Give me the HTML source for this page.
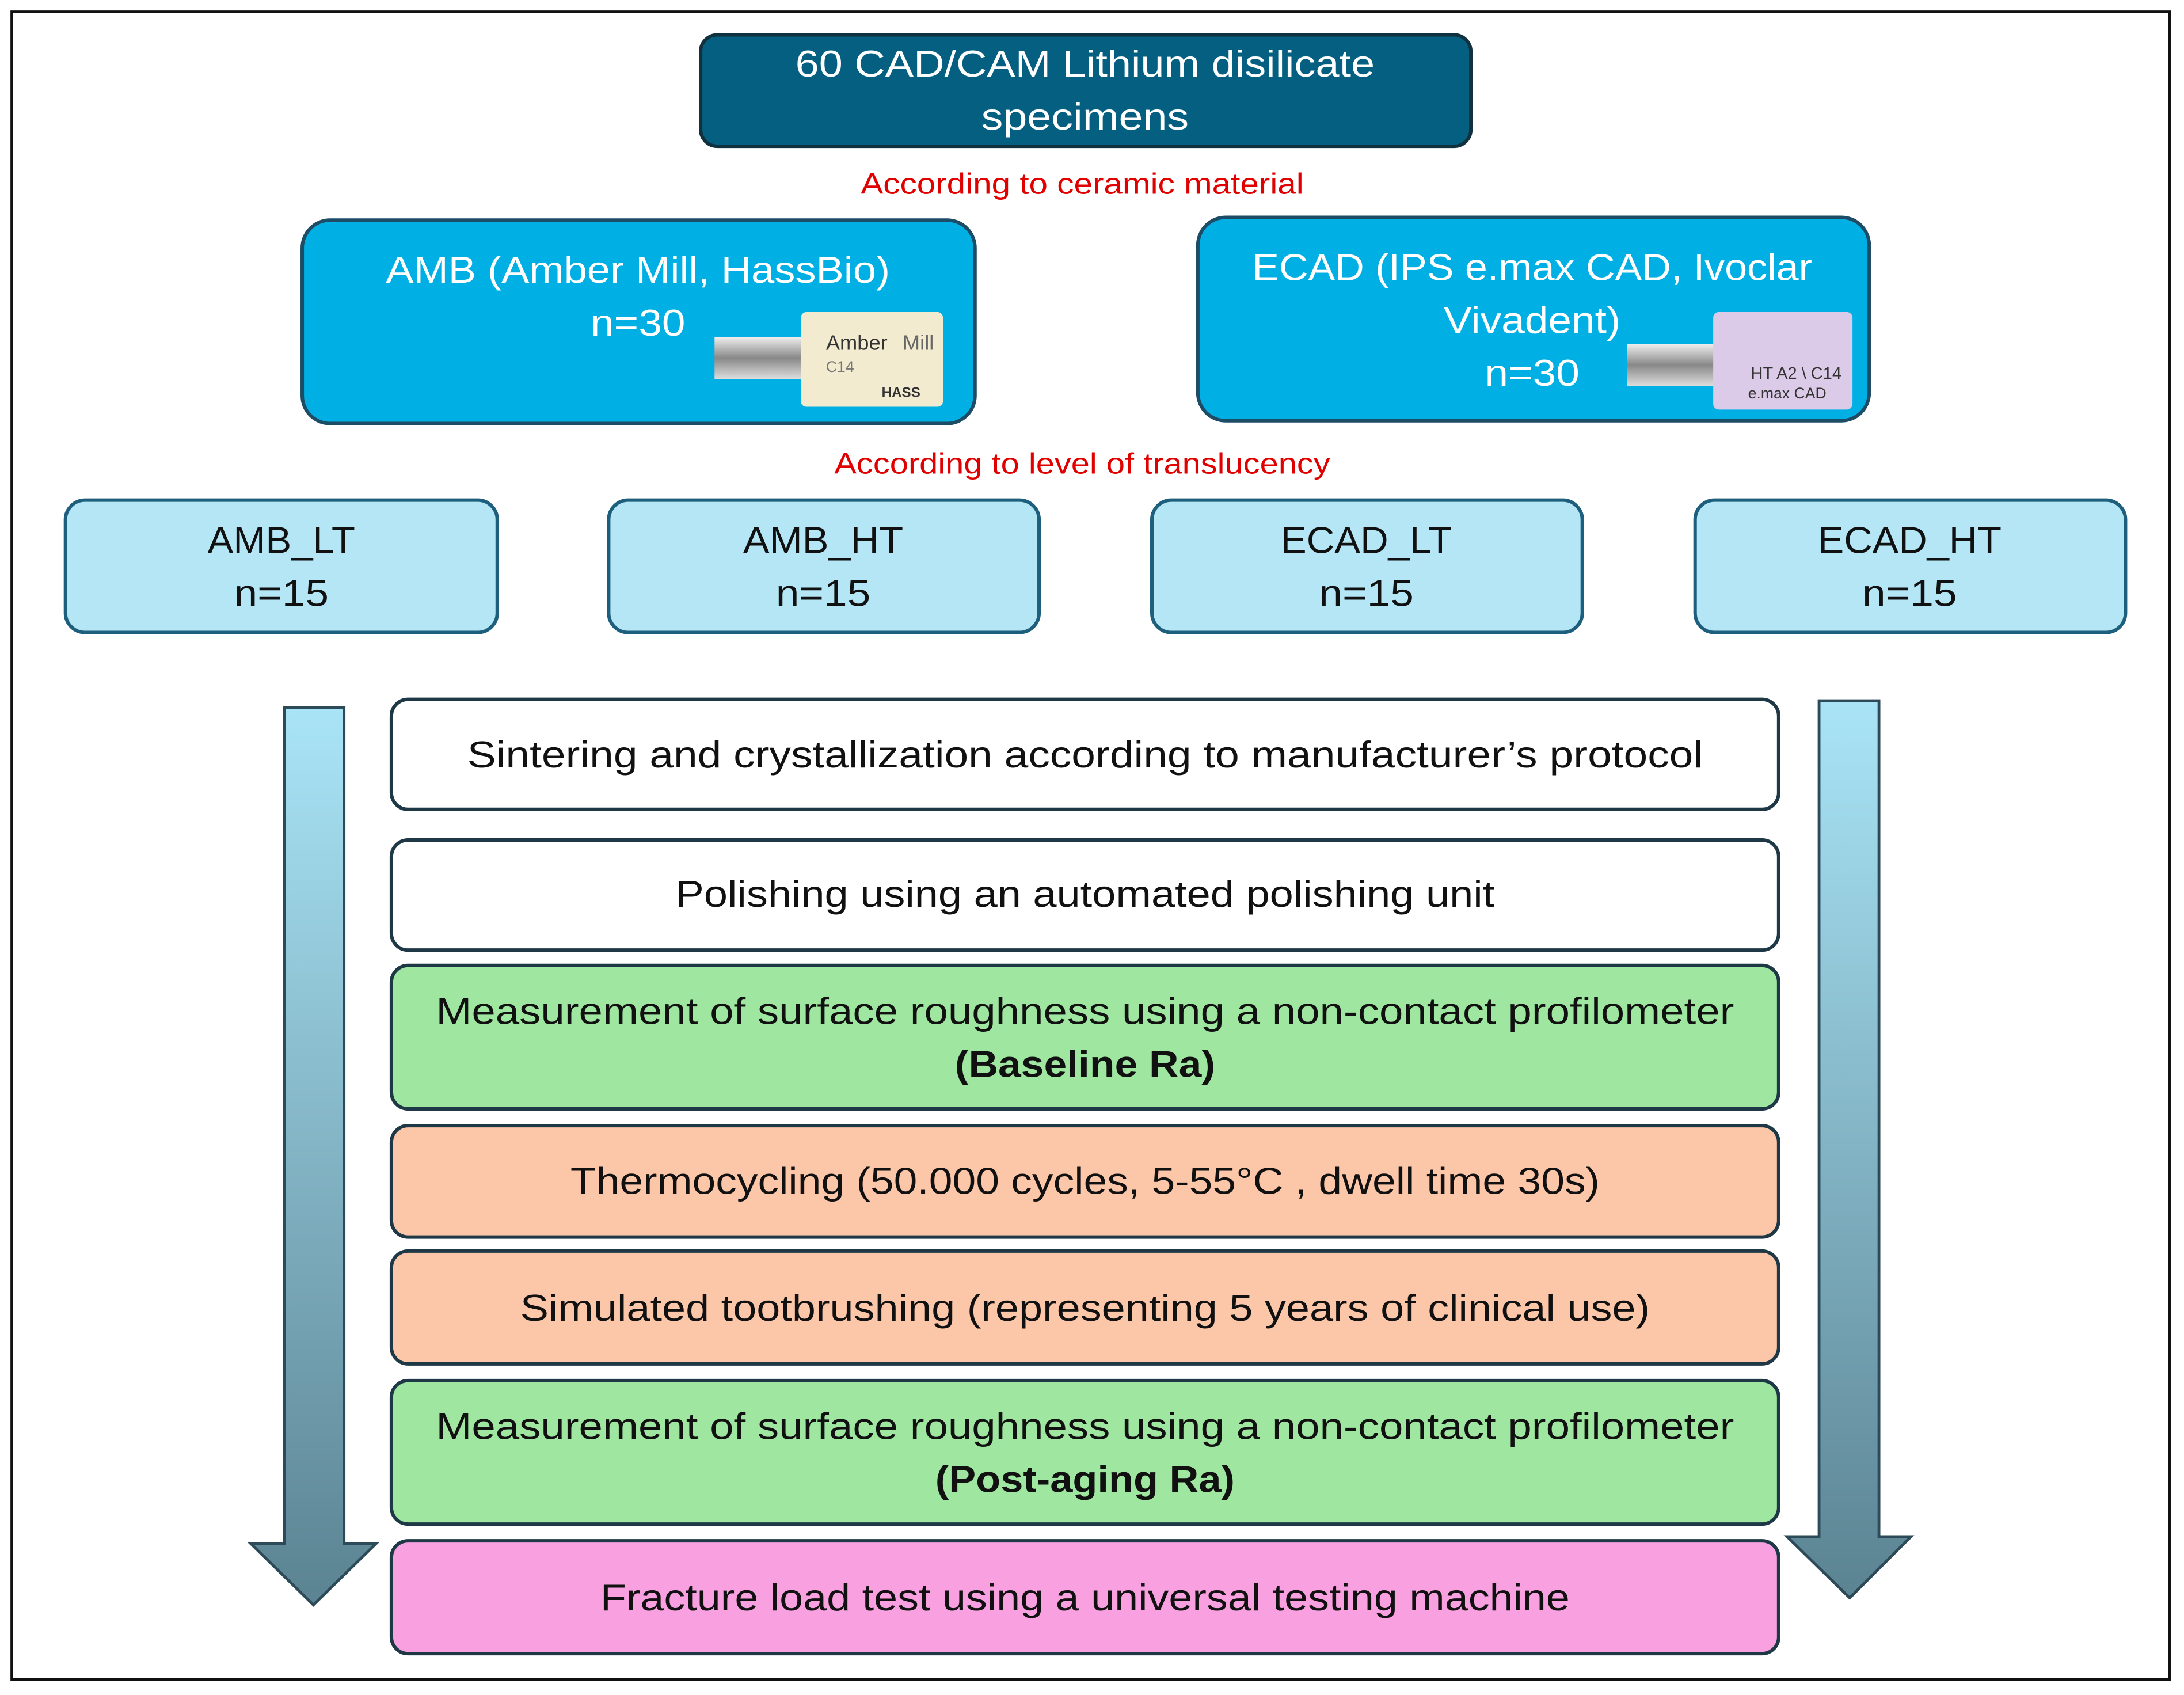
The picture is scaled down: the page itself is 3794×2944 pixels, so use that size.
<!DOCTYPE html>
<html><head><meta charset="utf-8"><style>
html,body{margin:0;padding:0;background:#fff}
svg{display:block}
text{font-family:"Liberation Sans",sans-serif}
</style></head><body>
<svg width="3794" height="2944" viewBox="0 0 1568 1216.7" xmlns="http://www.w3.org/2000/svg">
<defs>
<linearGradient id="ag" x1="0" y1="0" x2="0" y2="1">
<stop offset="0" stop-color="#a9e4f6"/><stop offset="1" stop-color="#5b8392"/>
</linearGradient>
<linearGradient id="metal" x1="0" y1="0" x2="0" y2="1">
<stop offset="0" stop-color="#eee"/><stop offset="0.5" stop-color="#888"/><stop offset="1" stop-color="#ddd"/>
</linearGradient>
</defs>
<rect x="0" y="0" width="1568" height="1217" fill="#fff"/>
<rect x="8.5" y="8.5" width="1549" height="1197" fill="none" stroke="#111" stroke-width="2"/>

<rect x="503" y="25" width="553" height="80" rx="12" fill="#055f80" stroke="#12313f" stroke-width="2.5"/>
<g lengthAdjust="spacingAndGlyphs">
<text x="779" y="55" font-size="27" fill="#fff" text-anchor="middle" textLength="416" lengthAdjust="spacingAndGlyphs">60 CAD/CAM Lithium disilicate</text>
<text x="779" y="93" font-size="27" fill="#fff" text-anchor="middle" textLength="149" lengthAdjust="spacingAndGlyphs">specimens</text>
</g>

<text x="777" y="139" font-size="21" fill="#e00000" text-anchor="middle" textLength="318" lengthAdjust="spacingAndGlyphs">According to ceramic material</text>

<rect x="217" y="158" width="483" height="146" rx="20" fill="#00b0e4" stroke="#1c4c66" stroke-width="2.5"/>
<text x="458" y="203" font-size="27" fill="#fff" text-anchor="middle" textLength="362" lengthAdjust="spacingAndGlyphs">AMB (Amber Mill, HassBio)</text>
<text x="458" y="241" font-size="27" fill="#fff" text-anchor="middle" textLength="68" lengthAdjust="spacingAndGlyphs">n=30</text>
<rect x="513" y="242" width="64" height="30" fill="url(#metal)"/>
<rect x="575" y="224" width="102" height="68" rx="4" fill="#f2ebcf"/>
<text x="593" y="251" font-size="15" fill="#333">Amber</text><text x="648" y="251" font-size="15" fill="#666">Mill</text>
<text x="593" y="267" font-size="11" fill="#777">C14</text>
<text x="633" y="285" font-size="10" font-weight="bold" fill="#333">HASS</text>

<rect x="860" y="156" width="482" height="146" rx="20" fill="#00b0e4" stroke="#1c4c66" stroke-width="2.5"/>
<text x="1100" y="201" font-size="27" fill="#fff" text-anchor="middle" textLength="402" lengthAdjust="spacingAndGlyphs">ECAD (IPS e.max CAD, Ivoclar</text>
<text x="1100" y="239" font-size="27" fill="#fff" text-anchor="middle" textLength="127" lengthAdjust="spacingAndGlyphs">Vivadent)</text>
<text x="1100" y="277" font-size="27" fill="#fff" text-anchor="middle" textLength="68" lengthAdjust="spacingAndGlyphs">n=30</text>
<rect x="1168" y="247" width="64" height="30" fill="url(#metal)"/>
<rect x="1230" y="224" width="100" height="70" rx="4" fill="#dccbe8"/>
<text x="1257" y="272" font-size="12" fill="#333">HT A2 \ C14</text>
<text x="1255" y="286" font-size="11" fill="#333">e.max CAD</text>

<text x="777" y="340" font-size="21" fill="#e00000" text-anchor="middle" textLength="356" lengthAdjust="spacingAndGlyphs">According to level of translucency</text>

<g stroke="#1d5f7c" stroke-width="2.5" fill="#b4e6f6">
<rect x="47" y="359" width="310" height="95" rx="14"/>
<rect x="437" y="359" width="309" height="95" rx="14"/>
<rect x="827" y="359" width="309" height="95" rx="14"/>
<rect x="1217" y="359" width="309" height="95" rx="14"/>
</g>
<g font-size="27" fill="#111" text-anchor="middle">
<text x="202" y="397" textLength="106" lengthAdjust="spacingAndGlyphs">AMB_LT</text><text x="202" y="435" textLength="68" lengthAdjust="spacingAndGlyphs">n=15</text>
<text x="591" y="397" textLength="115" lengthAdjust="spacingAndGlyphs">AMB_HT</text><text x="591" y="435" textLength="68" lengthAdjust="spacingAndGlyphs">n=15</text>
<text x="981" y="397" textLength="123" lengthAdjust="spacingAndGlyphs">ECAD_LT</text><text x="981" y="435" textLength="68" lengthAdjust="spacingAndGlyphs">n=15</text>
<text x="1371" y="397" textLength="132" lengthAdjust="spacingAndGlyphs">ECAD_HT</text><text x="1371" y="435" textLength="68" lengthAdjust="spacingAndGlyphs">n=15</text>
</g>

<path d="M204 508 H247 V1108 H270 L225 1152 L180 1108 H204 Z" fill="url(#ag)" stroke="#2c4a58" stroke-width="2"/>
<path d="M1306 503 H1349 V1103 H1372 L1328 1147 L1283 1103 H1306 Z" fill="url(#ag)" stroke="#2c4a58" stroke-width="2"/>

<g stroke="#1e3846" stroke-width="2.5">
<rect x="281" y="502" width="996" height="79" rx="12" fill="#fff"/>
<rect x="281" y="603" width="996" height="79" rx="12" fill="#fff"/>
<rect x="281" y="693" width="996" height="103" rx="12" fill="#9fe6a0"/>
<rect x="281" y="808" width="996" height="80" rx="12" fill="#fcc6a9"/>
<rect x="281" y="898" width="996" height="81" rx="12" fill="#fcc6a9"/>
<rect x="281" y="991" width="996" height="103" rx="12" fill="#9fe6a0"/>
<rect x="281" y="1106" width="996" height="81" rx="12" fill="#f8a0e0"/>
</g>
<g font-size="27" fill="#111" text-anchor="middle">
<text x="779" y="551" textLength="887" lengthAdjust="spacingAndGlyphs">Sintering and crystallization according to manufacturer’s protocol</text>
<text x="779" y="651" textLength="588" lengthAdjust="spacingAndGlyphs">Polishing using an automated polishing unit</text>
<text x="779" y="735" textLength="932" lengthAdjust="spacingAndGlyphs">Measurement of surface roughness using a non-contact profilometer</text>
<text x="779" y="773" font-weight="bold" textLength="187" lengthAdjust="spacingAndGlyphs">(Baseline Ra)</text>
<text x="779" y="857" textLength="739" lengthAdjust="spacingAndGlyphs">Thermocycling (50.000 cycles, 5-55°C , dwell time 30s)</text>
<text x="779" y="948" textLength="811" lengthAdjust="spacingAndGlyphs">Simulated tootbrushing (representing 5 years of clinical use)</text>
<text x="779" y="1033" textLength="932" lengthAdjust="spacingAndGlyphs">Measurement of surface roughness using a non-contact profilometer</text>
<text x="779" y="1071" font-weight="bold" textLength="215" lengthAdjust="spacingAndGlyphs">(Post-aging Ra)</text>
<text x="779" y="1156" textLength="696" lengthAdjust="spacingAndGlyphs">Fracture load test using a universal testing machine</text>
</g>
</svg>
</body></html>
